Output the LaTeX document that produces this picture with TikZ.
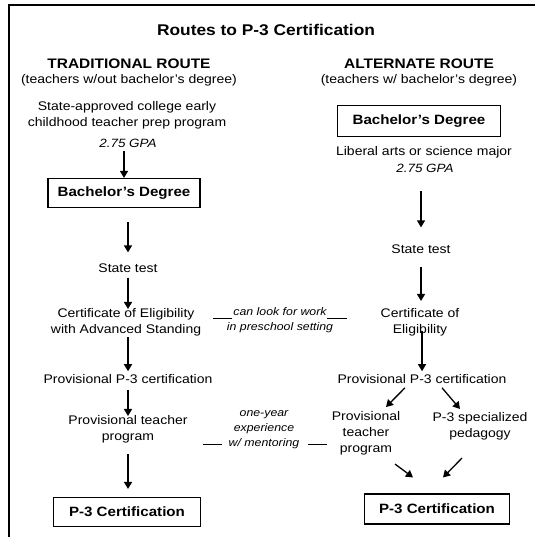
\documentclass[tikz,border=0pt]{standalone}
\usepackage{fontspec}
\setmainfont[FakeStretch=1.12]{Liberation Sans}
\usetikzlibrary{arrows.meta,calc}
\tikzset{
  txt/.style={align=center,inner sep=1pt,font=\fontsize{12.5}{16}\selectfont},
  ital/.style={align=center,inner sep=1pt,font=\fontsize{11}{15}\selectfont\itshape},
  gpa/.style={align=center,inner sep=1pt,font=\fontsize{12}{15}\selectfont\itshape},
  head/.style={align=center,inner sep=1pt,font=\fontsize{13.8}{15}\selectfont\bfseries},
  sub/.style={align=center,inner sep=1pt,font=\fontsize{12.5}{13}\selectfont},
  boxed/.style={draw,line width=1.1pt,minimum height=29pt,inner sep=2pt,font=\fontsize{13.5}{14}\selectfont\bfseries},
  arr/.style={line width=1.3pt,-{Triangle[width=8pt,length=7pt]}},
  dash line/.style={line width=1pt}
}
\begin{document}
\begin{tikzpicture}[x=1pt,y=-1pt]
\useasboundingbox (0,0) rectangle (535,537);
% frame
\draw[line width=1.3pt] (9,537) -- (9,5) -- (535,5);
% title
\node[head,font=\fontsize{15.5}{15}\selectfont\bfseries] (title) at (266,30) {Routes to P-3 Certification};
% left column
\node[head] (tradH) at (129,64) {TRADITIONAL ROUTE};
\node[sub] (tradS) at (129,80) {(teachers w/out bachelor's degree)};
\node[txt] (prep) at (127,115) {State-approved college early\\childhood teacher prep program};
\node[gpa] (gpaL) at (128,143) {2.75 GPA};
\node[boxed,minimum width=152pt] (bachL) at (124,193) {Bachelor's Degree};
\node[txt] (testL) at (128,268) {State test};
\node[txt] (certL) at (126,322) {Certificate of Eligibility\\with Advanced Standing};
\node[txt] (provL) at (128,379) {Provisional P-3 certification};
\node[txt] (progL) at (128,429) {Provisional teacher\\program};
\node[boxed,minimum width=147pt] (p3L) at (127,512) {P-3 Certification};
% left arrows
\draw[arr,shorten <=3pt,shorten >=0pt] (gpaL.south -| bachL) -- (bachL.north);
\draw[arr,shorten <=14pt,shorten >=10pt] (bachL.south -| testL) -- (testL.north);
\draw[arr,shorten <=4pt,shorten >=-2pt] (testL.south) -- (certL.north -| testL);
\draw[arr,shorten <=0pt,shorten >=2pt] (certL.south -| provL) -- (provL.north);
\draw[arr,shorten <=5pt,shorten >=-2pt] (provL.south) -- (progL.north -| provL);
\draw[arr,shorten <=10pt,shorten >=8pt] (progL.south) -- (p3L.north -| progL);
% middle notes
\node[ital] (look) at (280,320) {can look for work\\in preschool setting};
\draw[dash line] ($(look.center)+(-67,-2)$) -- ($(look.center)+(-48,-2)$);
\draw[dash line] ($(look.center)+(47,-2)$) -- ($(look.center)+(67,-2)$);
\node[ital] (exp) at (264,430) {one-year\\experience\\w/ mentoring};
% right column
\node[head] (altH) at (419,64) {ALTERNATE ROUTE};
\node[sub] (altS) at (419,80) {(teachers w/ bachelor's degree)};
\node[boxed,minimum width=163pt,minimum height=31pt] (bachR) at (419,121) {Bachelor's Degree};
\node[txt] (libR) at (424,152) {Liberal arts or science major};
\node[gpa] (gpaR) at (425,168) {2.75 GPA};
\node[txt] (testR) at (421,249) {State test};
\node[txt] (certR) at (420,322) {Certificate of\\Eligibility};
\node[txt] (provR) at (422,379) {Provisional P-3 certification};
\node[txt] (progR) at (366,433) {Provisional\\teacher\\program};
\node[txt] (pedR) at (480,426) {P-3 specialized\\pedagogy};
\node[boxed,minimum width=145pt,minimum height=30pt] (p3R) at (437,509) {P-3 Certification};
% right arrows
\draw[arr,shorten <=18pt,shorten >=16pt] (gpaR.south -| testR) -- (testR.north);
\draw[arr,shorten <=12pt,shorten >=6pt] (testR.south) -- (certR.north -| testR);
\draw[arr,shorten <=-6pt,shorten >=2pt] (certR.south -| provR) -- (provR.north);
\draw[arr] ($(provR.south)+(-17,3)$) -- ($(progR.north)+(20,-3)$);
\draw[arr] ($(provR.south)+(20,3)$) -- ($(pedR.north)+(-20,-2)$);
\draw[arr] ($(progR.south)+(29,8)$) -- ($(p3R.north)+(-24,-16)$);
\draw[arr] ($(pedR.south)+(-18,17)$) -- ($(p3R.north)+(6,-16)$);
% experience dashes
\draw[dash line] ($(exp.center)+(-61,14)$) -- ($(exp.center)+(-42,14)$);
\draw[dash line] ($(exp.center)+(44,14)$) -- ($(exp.center)+(63,14)$);
\end{tikzpicture}
\end{document}
